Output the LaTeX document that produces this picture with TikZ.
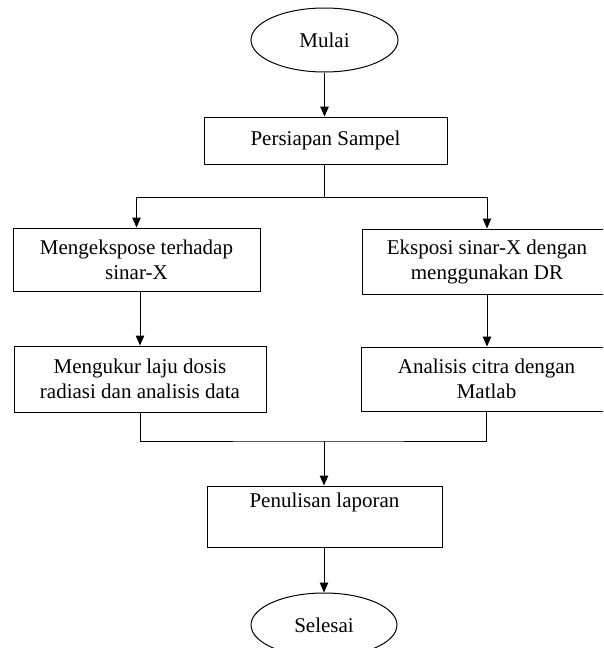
\documentclass[tikz,border=0pt]{standalone}
\usepackage{fontspec}
\setmainfont{Liberation Serif}
\usetikzlibrary{shapes.geometric,arrows.meta}
\begin{document}
\begin{tikzpicture}[x=1pt,y=-1pt,
  every node/.style={font=\fontsize{21}{25}\selectfont, align=center, inner sep=0pt},
  box/.style={draw, line width=1pt, rectangle},
  term/.style={draw, line width=1pt, ellipse},
  conn/.style={line width=1pt},
  arr/.style={conn, -{Triangle[length=10pt,width=8.5pt]}}]
\useasboundingbox (0,0) rectangle (603,648);
\clip (0,0) rectangle (603,648);
\node[term, minimum width=147pt, minimum height=64pt] (mulai) at (324.5,40) {Mulai};
\node[box, minimum width=243pt, minimum height=47pt] (ps) at (325.5,140.5) {Persiapan Sampel};
\node[box, minimum width=247pt, minimum height=63pt] (lb1) at (136.5,259.5) {Mengekspose terhadap\\sinar-X};
\node[box, minimum width=252pt, minimum height=66pt] (lb2) at (140,379) {Mengukur laju dosis\\radiasi dan analisis data};
\node[box, minimum width=250pt, minimum height=65pt] (rb1) at (487,261.5) {Eksposi sinar-X dengan\\menggunakan DR};
\node[box, minimum width=251pt, minimum height=64pt] (rb2) at (486.5,379) {Analisis citra dengan\\Matlab};
\node[box, minimum width=235pt, minimum height=61pt] (pl) at (324.5,516.5) {Penulisan laporan\\\strut};
\node[term, minimum width=146pt, minimum height=64pt] (selesai) at (324,625) {Selesai};
\coordinate (split) at (324,197);
\coordinate (merge) at (324,441);
\draw[arr] (mulai.south) -- (mulai.south |- ps.north);
\draw[conn] (ps.south -| split) -- (split);
\draw[arr] (split) -| (lb1.north);
\draw[arr] (split) -| (rb1.north);
\draw[arr] (lb2.north |- lb1.south) -- (lb2.north);
\draw[arr] (rb1.south) -- (rb1.south |- rb2.north);
\draw[conn] (lb2.south) |- (merge) -| (rb2.south);
\draw[arr] (merge) -- (merge |- pl.north);
\draw[arr] (pl.south -| selesai.north) -- (selesai.north);
\end{tikzpicture}
\end{document}
